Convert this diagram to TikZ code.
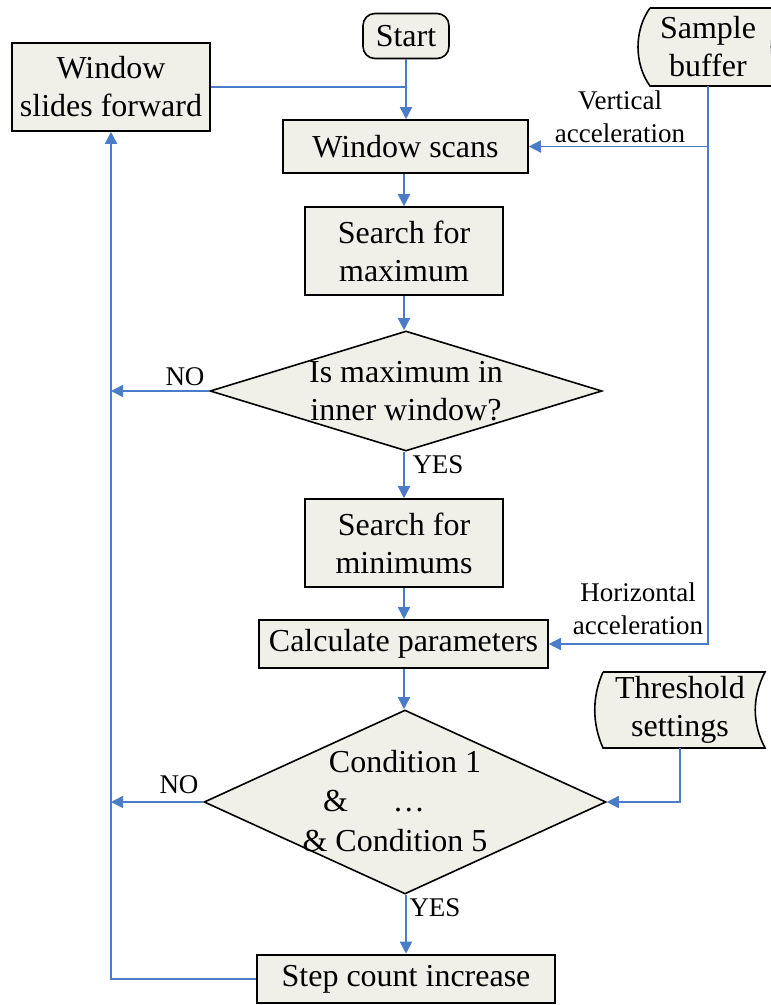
\documentclass[tikz,border=0pt]{standalone}
\usepackage{fontspec}
\setmainfont{Liberation Serif}
\usepackage{xcolor}
\usetikzlibrary{shapes.geometric,arrows.meta,positioning}
\definecolor{boxfill}{HTML}{F0F0E9}
\definecolor{flowblue}{HTML}{4A7CC7}
\newcommand{\flowfont}{\fontsize{16}{19}\selectfont}
\newcommand{\labfont}{\fontsize{13.5}{16.5}\selectfont}

\begin{document}
\begin{tikzpicture}[x=0.5pt,y=-0.5pt,
    box/.style={draw,line width=0.8pt,fill=boxfill,align=center,inner sep=2pt,font=\flowfont},
    decision/.style={draw,line width=0.8pt,fill=boxfill,diamond,inner sep=0pt},
    flow/.style={flowblue,line width=0.8pt,-{Triangle[length=6pt,width=6pt]}},
    plain/.style={flowblue,line width=0.8pt},
    lab/.style={font=\labfont,align=center,inner sep=0pt}]
        \useasboundingbox (0,0) rectangle (770,1005);

        % Start
        \node[box,rounded corners=6pt,minimum width=43pt,minimum height=22.5pt] (start) at (406,36) {Start};

        % Sample buffer (stored data)
        \draw[line width=0.8pt,fill=boxfill] (650,8) -- (782,8) .. controls (768,30) and (768,64) .. (782,86)
            -- (650,86) .. controls (634,64) and (634,30) .. (650,8);
        \node[align=center,font=\flowfont,inner sep=0pt,minimum height=39pt] (buf) at (708,47) {Sample\\buffer};

        % Window slides forward
        \node[box,minimum width=99pt,minimum height=44pt] (slide) at (111,87) {Window\\slides forward};

        % Window scans
        \node[box,minimum width=122.5pt,minimum height=26.5pt] (scans) at (405.5,146.5) {Window scans};
        \node[lab] (vacc) at (620,117) {Vertical\\acceleration};

        % Search for maximum
        \node[box,minimum width=99pt,minimum height=44pt] (smax) at (404,251) {Search for\\maximum};

        % Is maximum in inner window?
        \node[decision,minimum width=196pt,minimum height=60pt] (inner) at (406,391) {};
        \node[align=center,font=\flowfont,inner sep=0pt] (innertxt) at (inner) {Is maximum in\\inner window?};
        \node[lab] (no1) at (185,377) {NO};
        \node[lab] (yes1) at (438,465) {YES};

        % Search for minimums
        \node[box,minimum width=99pt,minimum height=44pt] (smin) at (404,543) {Search for\\minimums};

        % Calculate parameters
        \node[box,minimum width=144.5pt,minimum height=24pt] (calc) at (403.5,644) {Calculate parameters};
        \node[lab] (hacc) at (638,609) {Horizontal\\acceleration};

        % Threshold settings (stored data)
        \draw[line width=0.8pt,fill=boxfill] (603,672) -- (765,672) .. controls (752,697) and (752,723) .. (765,748)
            -- (603,748) .. controls (592,723) and (592,697) .. (603,672);
        \node[align=center,font=\flowfont,inner sep=0pt,minimum height=38pt] (thr) at (680,710) {Threshold\\settings};

        % Conditions
        \node[decision,minimum width=201pt,minimum height=92pt] (cond) at (405,802) {};
        \node[font=\flowfont,inner sep=0pt] (conda) at (405,762) {Condition 1};
        \node[font=\flowfont,inner sep=0pt] (condb) at (374,801) {\&\hspace{1.4em}…};
        \node[font=\flowfont,inner sep=0pt] (condc) at (395,841) {\& Condition 5};
        \node[lab] (no2) at (179,785) {NO};
        \node[lab] (yes2) at (435,908) {YES};

        % Step count increase
        \node[box,line width=1.3pt,minimum width=149pt,minimum height=24pt] (step) at (406,979) {Step count increase};

        % Main flow
        \draw[flow] (start.south) -- (start.south |- scans.north);
        \draw[plain] (slide.east) -- (slide.east -| start.south);
        \draw[flow] (smax.north |- scans.south) -- (smax.north);
        \draw[flow] (smax.south) -- (smax.south |- inner.north);
        \draw[flow] (smin.north |- inner.south) -- (smin.north);
        \draw[flow] (smin.south) -- (smin.south |- calc.north);
        \draw[flow] (smin.south |- calc.south) -- (smin.south |- cond.north);
        \draw[flow] (step.north |- cond.south) -- (step.north);

        % Sensor inputs
        \draw[plain] (buf.south) -- (buf.south |- scans.east);
        \draw[flow] (buf.south |- scans.east) -- (scans.east);
        \draw[flow] (buf.south |- scans.east) -- (buf.south |- calc.east) -- (calc.east);
        \draw[flow] (thr.south) -- (thr.south |- cond.east) -- (cond.east);

        % Loop back
        \draw[flow] (inner.west) -- (inner.west -| slide.south);
        \draw[flow] (cond.west) -- (cond.west -| slide.south);
        \draw[flow] (step.west) -- (step.west -| slide.south) -- (slide.south);
      \end{tikzpicture}
\end{document}
